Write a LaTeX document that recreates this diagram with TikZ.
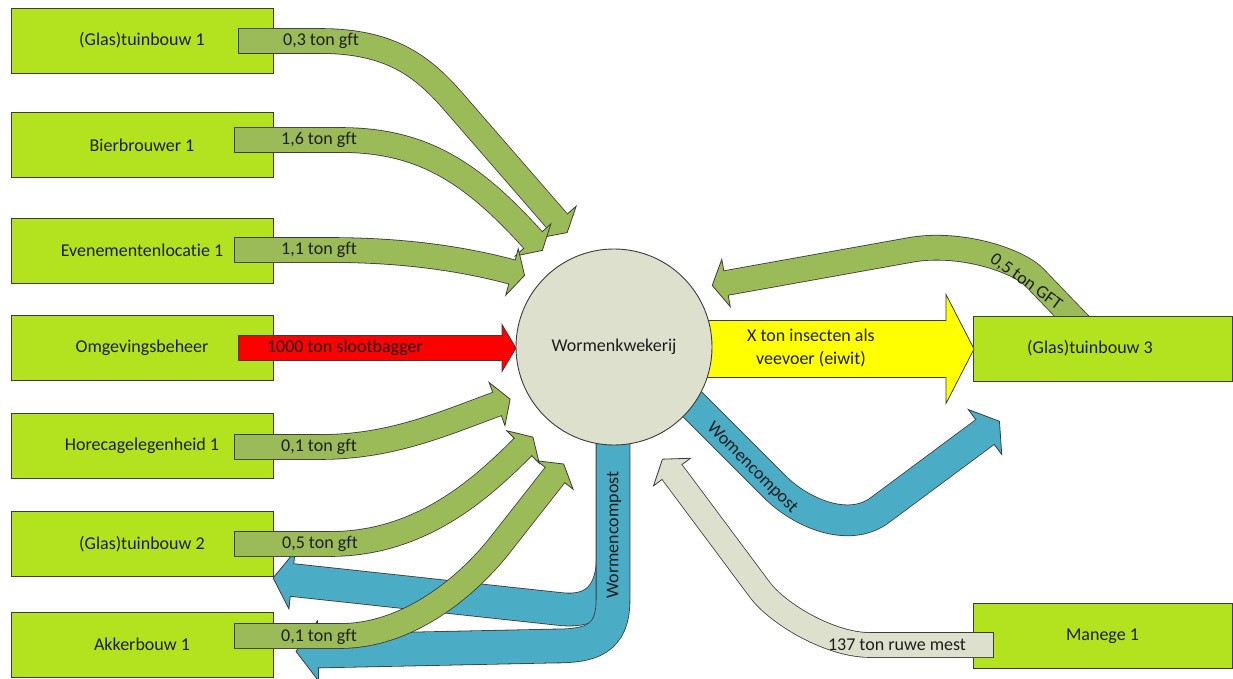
\documentclass[tikz,border=0pt]{standalone}
\usepackage{fontspec}
\setmainfont{Carlito}[Ligatures=CommonOff]
\usetikzlibrary{decorations.markings,calc}
\definecolor{boxfill}{HTML}{B3E21F}
\definecolor{edgecol}{HTML}{3C3C3C}
\definecolor{gflow}{HTML}{9BBB59}
\definecolor{bflow}{HTML}{4BACC6}
\definecolor{hub}{HTML}{DDE0CD}
\definecolor{txt}{HTML}{1E1E1E}
\definecolor{redflow}{HTML}{FF0000}
\definecolor{yelflow}{HTML}{FFFF00}
% #1 fill colour, #2 shaft width, #3 head width, #4 head length, #5 path
\newcommand\flowarrow[5]{%
  \draw[edgecol, line width=#2+1.6] #5;
  \draw[#1, line width=#2,
    postaction={decorate, decoration={markings,
      mark=at position 0 with {\draw[edgecol, line width=0.8] (0,-#2/2-0.8) -- (0,#2/2+0.8);},
      mark=at position 1 with {%
        \fill[#1] (-0.8,-#2/2) -- (-0.8,#2/2) -- (0,#2/2) -- (0,#3/2) -- (#4,0) -- (0,-#3/2) -- (0,-#2/2) -- cycle;
        \draw[edgecol, line width=0.8, line join=miter] (0,#2/2) -- (0,#3/2) -- (#4,0) -- (0,-#3/2) -- (0,-#2/2);}}}] #5;
}
\begin{document}
\begin{tikzpicture}[x=1pt, y=-1pt, font=\fontsize{18}{21}\selectfont,
  box/.style={draw=edgecol, line width=0.9pt, fill=boxfill, minimum width=262pt, minimum height=65pt, inner sep=0pt, text=txt},
  lbl/.style={text=txt, inner sep=0pt}]
\useasboundingbox (0,0) rectangle (1233,679);
\clip (0,0) rectangle (1233,679);
\fill[white] (0,0) rectangle (1233,679);

% return flow from (Glas)tuinbouw 3 (tail hidden under its box)
\coordinate (g8s) at (1085,330);
\coordinate (g8e) at (726,283);
\flowarrow{gflow}{24}{48}{14}{(g8s) -- (1035,278) .. controls (1018,260) and (959,241) .. (910,250) -- (g8e)}

% boxes
\node[box] (g1) at (142,40.5) {(Glas)tuinbouw 1};
\node[box] (bb) at (142,145) {Bierbrouwer 1};
\node[box] (ev) at (142,250.5) {Evenementenlocatie 1};
\node[box] (om) at (142,348) {Omgevingsbeheer};
\node[box] (ho) at (142,446) {Horecagelegenheid 1};
\node[box] (g2) at (142,544) {(Glas)tuinbouw 2};
\node[box] (ak) at (142,644.5) {Akkerbouw 1};
\node[box, minimum width=259pt] (g3) at (1102.5,348.5) {\hspace*{-25pt}(Glas)tuinbouw 3};
\node[box, minimum width=259pt] (ma) at (1102.5,636) {Manege 1};

\coordinate (hubc) at (614,347);

% blue compost flows
\coordinate (b1s) at (613,430);
\coordinate (b1e) at (292,580);
\flowarrow{bflow}{32}{58}{19}{(b1s) -- (613,555) .. controls (613,595) and (595,613) .. (560,609) -- (b1e)}
\coordinate (b2s) at (613,430);
\coordinate (b2e) at (318,651);
\flowarrow{bflow}{33}{60}{22}{(b2s) -- (613,600) .. controls (613,640) and (590,646) .. (555,646) -- (b2e)}
\coordinate (b3s) at (680,392);
\coordinate (b3e) at (985,432);
\flowarrow{bflow}{30}{56}{18}{(b3s) -- (775,487) .. controls (800,512) and (848,534) .. (880,510) -- (b3e)}

% green gft flows
\coordinate (a1s) at (238,41);  \coordinate (a1e) at (558,222);
\coordinate (a2s) at (234,140); \coordinate (a2e) at (533,240);
\coordinate (a3s) at (234,250); \coordinate (a3e) at (512,272);
\coordinate (a5s) at (234,447); \coordinate (a5e) at (497,404);
\coordinate (a6s) at (234,544); \coordinate (a6e) at (523,447);
\coordinate (a7s) at (234,636); \coordinate (a7e) at (555,475);
\flowarrow{gflow}{24}{48}{14}{(a1s) -- (320,41) .. controls (390,41) and (422,66) .. (452,100) -- (a1e)}
\flowarrow{gflow}{24}{48}{14}{(a2s) -- (340,140) .. controls (420,140) and (470,170) .. (a2e)}
\flowarrow{gflow}{24}{48}{13}{(a3s) -- (330,250) .. controls (400,250) and (460,258) .. (a3e)}
\flowarrow{gflow}{24}{46}{14}{(a5s) -- (320,447) .. controls (390,447) and (440,425) .. (a5e)}
\flowarrow{gflow}{24}{46}{14}{(a6s) -- (330,544) .. controls (420,544) and (480,490) .. (a6e)}
\flowarrow{gflow}{24}{46}{14}{(a7s) -- (340,636) .. controls (415,636) and (475,577) .. (500,545) -- (a7e)}

% sludge
\coordinate (rs) at (238,348); \coordinate (re) at (502,348);
\flowarrow{redflow}{24}{47}{14}{(rs) -- (re)}

% insects
\coordinate (ys) at (700,349); \coordinate (ye) at (946,349);
\flowarrow{yelflow}{56}{109}{28}{(ys) -- (ye)}

% manure
\coordinate (ms) at (993,645); \coordinate (me) at (672,472);
\flowarrow{hub}{24}{46}{16}{(ms) -- (870,645) .. controls (830,645) and (778,614) .. (760,590) -- (me)}

% hub
\node[circle, draw=edgecol, line width=0.9pt, fill=hub, minimum size=196pt, inner sep=0pt, text=txt] (wk) at (hubc) {Wormenkwekerij};

% labels
\node[lbl] (l1) at (321,41) {0,3 ton gft};
\node[lbl] (l2) at (319,140) {1,6 ton gft};
\node[lbl] (l3) at (319,250) {1,1 ton gft};
\node[lbl] (l5) at (319,447) {0,1 ton gft};
\node[lbl] (l6) at (320,544) {0,5 ton gft};
\node[lbl] (l7) at (319,637) {0,1 ton gft};
\node[lbl] (lr) at (345,348) {1000 ton slootbagger};
\node[lbl, align=center, font=\fontsize{18}{23}\selectfont] (ly) at (811,348) {X ton insecten als\\veevoer (eiwit)};
\node[lbl, rotate=-45] (lb3) at (752,468) {Womencompost};
\node[lbl, rotate=90] (lb2) at (614,535) {Wormencompost};
\node[lbl, rotate=-36] (lg8) at (1026,282) {0,5 ton GFT};
\node[lbl] (lm) at (897,645) {137 ton ruwe mest};
\end{tikzpicture}
\end{document}
